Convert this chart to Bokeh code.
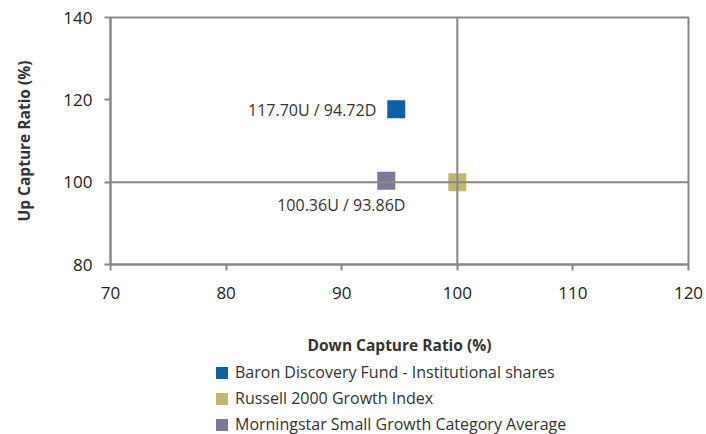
from bokeh.plotting import figure
from bokeh.layouts import column
from bokeh.models import (Range1d, FixedTicker, Span, Legend, LegendItem,
                          ColumnDataSource)
from bokeh.core.properties import value
from bokeh.embed import file_html
from bokeh.resources import INLINE

# ---- data ----
names = ["Baron Discovery Fund - Institutional shares",
         "Russell 2000 Growth Index",
         "Morningstar Small Growth Category Average"]
down_capture = [94.72, 100.00, 93.86]
up_capture = [117.70, 100.00, 100.36]
colors = ["#0A62A4", "#C0B86C", "#7A7A98"]
show_label = [True, False, True]
x_ticks = [70, 80, 90, 100, 110, 120]
y_ticks = [80, 100, 120, 140]

FONT = "Open Sans"
AXIS_COLOR = "#888888"
TEXT_COLOR = "#333333"

p = figure(width=706, height=358, output_backend="svg", toolbar_location=None,
           x_range=Range1d(70, 120), y_range=Range1d(80, 140),
           min_border_left=110, min_border_right=18, min_border_top=17,
           min_border_bottom=92)

p.grid.visible = False
p.outline_line_color = AXIS_COLOR
p.outline_line_width = 2
p.background_fill_color = "white"
p.border_fill_color = "white"

for ax in (p.xaxis[0], p.yaxis[0]):
    ax.axis_line_color = AXIS_COLOR
    ax.axis_line_width = 2
    ax.major_tick_line_color = AXIS_COLOR
    ax.major_tick_line_width = 2
    ax.major_tick_out = 6
    ax.major_tick_in = 0
    ax.minor_tick_line_color = None
    ax.major_label_text_font = FONT
    ax.major_label_text_font_size = "17px"
    ax.major_label_text_color = "#222222"
    ax.axis_label_text_font = FONT
    ax.axis_label_text_font_size = "15.5px"
    ax.axis_label_text_font_style = "bold"
    ax.axis_label_text_color = TEXT_COLOR

p.xaxis.ticker = FixedTicker(ticks=x_ticks)
p.yaxis.ticker = FixedTicker(ticks=y_ticks)
p.xaxis.axis_label = "Down Capture Ratio (%)"
p.yaxis.axis_label = "Up Capture Ratio (%)"
p.xaxis.major_label_standoff = 16
p.xaxis.axis_label_standoff = 32
p.yaxis.major_label_standoff = 12
p.yaxis.axis_label_standoff = 25

# crosshair at 100 / 100
p.add_layout(Span(location=100, dimension="height", line_color=AXIS_COLOR, line_width=2))
p.add_layout(Span(location=100, dimension="width", line_color=AXIS_COLOR, line_width=2))

# points
for i, name in enumerate(names):
    src = ColumnDataSource(dict(x=[down_capture[i]], y=[up_capture[i]]))
    p.rect("x", "y", width=18, height=18, width_units="screen",
           height_units="screen", fill_color=colors[i], line_color=None,
           source=src)

# labels
lab_x = [down_capture[i] for i in range(3) if show_label[i]]
lab_y = [up_capture[i] for i in range(3) if show_label[i]]
lab_t = [f"{up_capture[i]:.2f}U / {down_capture[i]:.2f}D" for i in range(3) if show_label[i]]
lab_align = ["right", "center"]
lab_xoff = [-20, -45]
lab_yoff = [1, 24]
p.text(x=lab_x, y=lab_y, text=lab_t, text_align=lab_align, x_offset=lab_xoff,
       y_offset=lab_yoff, text_baseline="middle", text_font=value(FONT),
       text_font_size="16px", text_color=TEXT_COLOR)

# ---- legend panel below the chart ----
lg = figure(width=706, height=76, output_backend="svg", toolbar_location=None,
            x_range=Range1d(70, 120), y_range=Range1d(80, 140),
            x_axis_location=None, y_axis_location=None, min_border=0)
lg.grid.visible = False
lg.outline_line_color = None
lg.background_fill_color = "white"
lg.border_fill_color = "white"

leg_renderers = []
for i, name in enumerate(names):
    src = ColumnDataSource(dict(x=[down_capture[i]], y=[up_capture[i]]))
    r = lg.rect("x", "y", width=18, height=18, width_units="screen",
                height_units="screen", fill_color=colors[i], line_color=None,
                source=src, visible=False)
    leg_renderers.append(r)

legend = Legend(items=[LegendItem(label=names[i], renderers=[leg_renderers[i]]) for i in range(3)],
                location=(104, -1), orientation="vertical",
                glyph_width=15, glyph_height=15, spacing=4,
                label_standoff=6, padding=0, margin=0,
                border_line_color=None, background_fill_alpha=0,
                label_text_font=FONT, label_text_font_size="16px",
                label_text_color=TEXT_COLOR)
lg.add_layout(legend, "center")

layout = column(p, lg, spacing=0)
open("out.html", "w").write(file_html(layout, INLINE))
